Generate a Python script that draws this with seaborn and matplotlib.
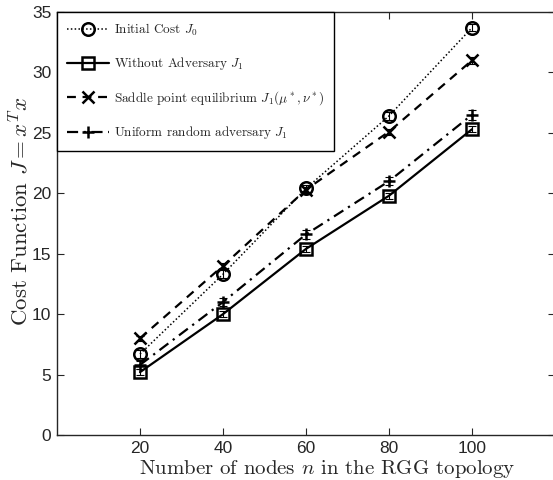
import numpy as np
import pandas as pd
import matplotlib
matplotlib.use('Agg')
import matplotlib.pyplot as plt
import seaborn as sns

# data
nodes = [20, 40, 60, 80, 100]
initial_cost = [6.7, 13.3, 20.4, 26.4, 33.7]
without_adv = [5.2, 10.0, 15.4, 19.8, 25.3]
saddle_point = [8.0, 14.0, 20.3, 25.1, 31.0]
uniform_adv = [5.8, 11.0, 16.6, 21.0, 26.5]
err_initial = [0.35, 0.35, 0.3, 0.35, 0.3]
err_without = [0.25, 0.25, 0.25, 0.25, 0.25]
err_saddle = [0.2, 0.25, 0.25, 0.25, 0.3]
err_uniform = [0.3, 0.35, 0.35, 0.35, 0.4]

labels = [r'Initial Cost $J_0$',
          r'Without Adversary $J_1$',
          r'Saddle point equilibrium $J_1(\mu^*,\nu^*)$',
          r'Uniform random adversary $J_1$']

sns.set_style('ticks')
plt.rcParams['mathtext.fontset'] = 'cm'
plt.rcParams['font.family'] = ['Liberation Sans', 'DejaVu Sans']

fig = plt.figure(figsize=(5.53, 4.8), dpi=100)
ax = fig.add_axes([57/553, 45/480, 498/553, 423/480])

# (values, errors, linestyle, linewidth, marker, facecolor, markersize)
series = [(initial_cost, err_initial, (0, (1, 1.5)), 1.1, 'o', 'none', 9),
          (without_adv, err_without, '-', 1.6, 's', 'none', 8),
          (saddle_point, err_saddle, (0, (4, 3)), 1.6, 'x', 'k', 8),
          (uniform_adv, err_uniform, (0, (5, 2.5, 1, 2.5)), 1.6, '+', 'k', 9)]

for (vals, err, ls, lw, mk, fc, ms), lab in zip(series, labels):
    df = pd.DataFrame({'n': nodes, 'J': vals})
    sns.lineplot(data=df, x='n', y='J', ax=ax, color='k', linestyle=ls,
                 linewidth=lw, marker=mk, markersize=ms, markerfacecolor=fc,
                 markeredgecolor='k', markeredgewidth=1.8, label=lab)
    ax.errorbar(nodes, vals, yerr=err, fmt='none', ecolor='k',
                elinewidth=0.8, capsize=3, capthick=0.8)

ax.set_xlim(0, 120)
ax.set_ylim(0, 35)
ax.set_xticks([20, 40, 60, 80, 100])
ax.set_yticks(np.arange(0, 36, 5))
ax.tick_params(direction='in', top=True, right=True, length=5, width=0.8,
               labelsize=12.5, pad=4)
for s in ax.spines.values():
    s.set_visible(True)
    s.set_linewidth(1.0)

ax.set_xlabel(r'Number of nodes $n$ in the RGG topology', family='cmr10',
              fontsize=15, labelpad=0)
ax.set_ylabel(r'Cost Function $J = x^T x$', family='cmr10', fontsize=16.5)
ax.xaxis.set_label_coords((327 - 57) / 498, -0.054, transform=ax.transAxes)
ax.yaxis.set_label_coords(-0.075, (435 - 211) / 423, transform=ax.transAxes)
ax.xaxis.label.set_va('top')
ax.yaxis.label.set_va('center')

leg = ax.legend(loc='upper left', borderaxespad=0, frameon=True, fancybox=False,
                edgecolor='k', framealpha=1, handlelength=3.2, labelspacing=1.3,
                borderpad=0.75, handletextpad=0.4,
                prop={'family': 'cmr10', 'size': 9.5})
leg.get_frame().set_linewidth(1.0)

fig.savefig('out.png', dpi=100)
